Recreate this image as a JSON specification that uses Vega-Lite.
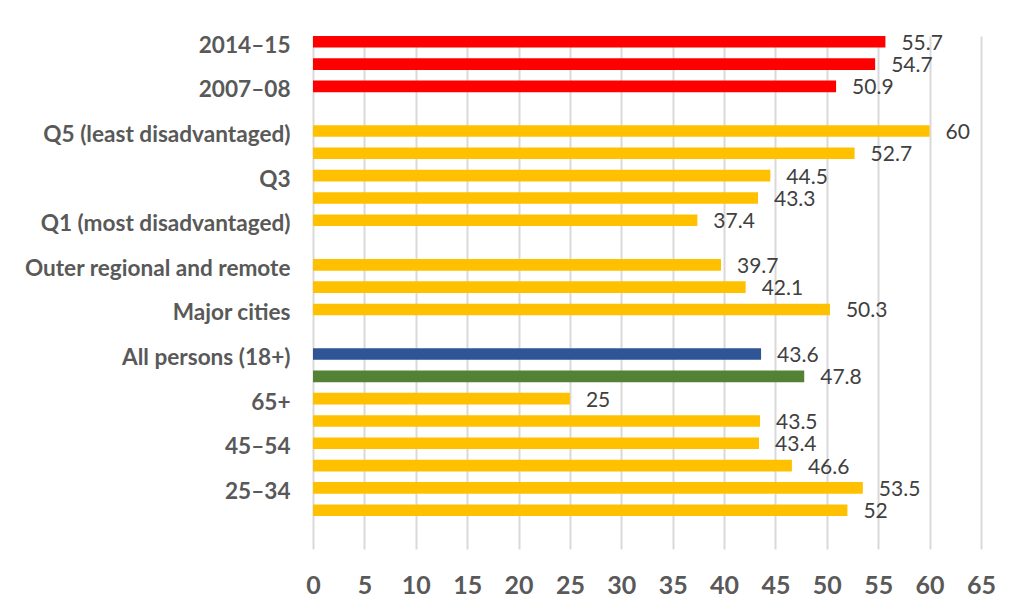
{
  "$schema": "https://vega.github.io/schema/vega-lite/v6.json",
  "autosize": {"type": "none"},
  "padding": {"left": 313, "top": 36, "right": 31, "bottom": 65},
  "width": 668,
  "height": 513,
  "background": "#ffffff",
  "config": {"view": {"stroke": null}, "font": "Lato"},
  "data": {
    "values": [
      {"cat": "2014–15", "value": 55.7, "group": "Trend"},
      {"cat": "2011–12", "value": 54.7, "group": "Trend"},
      {"cat": "2007–08", "value": 50.9, "group": "Trend"},
      {"cat": "Q5 (least disadvantaged)", "value": 60, "group": "Group"},
      {"cat": "Q4", "value": 52.7, "group": "Group"},
      {"cat": "Q3", "value": 44.5, "group": "Group"},
      {"cat": "Q2", "value": 43.3, "group": "Group"},
      {"cat": "Q1 (most disadvantaged)", "value": 37.4, "group": "Group"},
      {"cat": "Outer regional and remote", "value": 39.7, "group": "Group"},
      {"cat": "Inner regional", "value": 42.1, "group": "Group"},
      {"cat": "Major cities", "value": 50.3, "group": "Group"},
      {"cat": "All persons (18+)", "value": 43.6, "group": "All"},
      {"cat": "Males (18+)", "value": 47.8, "group": "Other"},
      {"cat": "65+", "value": 25, "group": "Group"},
      {"cat": "55–64", "value": 43.5, "group": "Group"},
      {"cat": "45–54", "value": 43.4, "group": "Group"},
      {"cat": "35–44", "value": 46.6, "group": "Group"},
      {"cat": "25–34", "value": 53.5, "group": "Group"},
      {"cat": "18–24", "value": 52, "group": "Group"}
    ]
  },
  "encoding": {
    "y": {
      "field": "cat",
      "type": "nominal",
      "scale": {
        "domain": ["2014–15", "2011–12", "2007–08", " ", "Q5 (least disadvantaged)", "Q4", "Q3", "Q2", "Q1 (most disadvantaged)", "  ", "Outer regional and remote", "Inner regional", "Major cities", "   ", "All persons (18+)", "Males (18+)", "65+", "55–64", "45–54", "35–44", "25–34", "18–24"],
        "paddingInner": 0.48,
        "paddingOuter": 0.74,
        "align": 0
      },
      "axis": {
        "title": null,
        "domain": false,
        "ticks": false,
        "grid": false,
        "labelPadding": 23,
        "labelOffset": 4,
        "labelFont": "Lato",
        "labelFontSize": 22.6,
        "labelFontWeight": "bold",
        "labelColor": "#595959",
        "labelLimit": 400,
        "labelExpr": "indexof(['2014–15','2007–08','Q5 (least disadvantaged)','Q3','Q1 (most disadvantaged)','Outer regional and remote','Major cities','All persons (18+)','65+','45–54','25–34'], datum.value) >= 0 ? datum.value : ''"
      }
    },
    "x": {
      "field": "value",
      "type": "quantitative",
      "scale": {"domain": [0, 65], "nice": false},
      "axis": {
        "title": null,
        "values": [0, 5, 10, 15, 20, 25, 30, 35, 40, 45, 50, 55, 60, 65],
        "domain": false,
        "ticks": false,
        "grid": true,
        "gridColor": "#d9d9d9",
        "gridWidth": 2,
        "labelFlush": false,
        "labelOverlap": false,
        "labelPadding": 24,
        "labelFont": "Lato",
        "labelFontSize": 25,
        "labelFontWeight": "bold",
        "labelColor": "#595959"
      }
    }
  },
  "layer": [
    {
      "mark": {"type": "bar"},
      "encoding": {
        "color": {
          "field": "group",
          "type": "nominal",
          "scale": {"domain": ["Trend", "Group", "All", "Other"], "range": ["#ff0000", "#ffc000", "#2f5597", "#548235"]},
          "legend": null
        }
      }
    },
    {
      "mark": {"type": "text", "align": "left", "baseline": "middle", "dx": 16, "dy": 2, "font": "Lato", "fontSize": 21, "color": "#404040"},
      "encoding": {
        "text": {"field": "value", "type": "nominal"}
      }
    }
  ]
}
